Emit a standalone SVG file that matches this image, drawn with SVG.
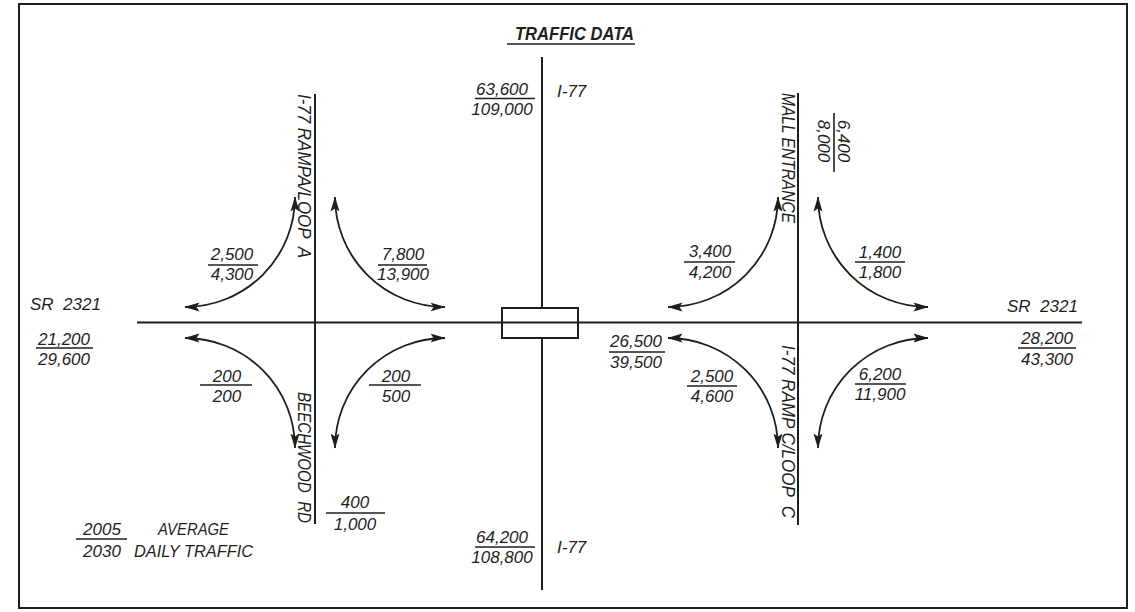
<svg xmlns="http://www.w3.org/2000/svg" width="1135" height="612" viewBox="0 0 1135 612">
<style>
.road{stroke:#1e1e1e;stroke-width:2;fill:none}
.arc{stroke:#1e1e1e;stroke-width:1.8;fill:none;marker-start:url(#ah);marker-end:url(#ah)}
.bar{stroke:#1e1e1e;stroke-width:1.6}
text{font-family:"Liberation Sans",Arial,sans-serif;font-style:italic;font-size:17px;fill:#1e1e1e}
.c{text-anchor:middle}
.v{font-size:18px}
.title{font-weight:bold;font-size:18px}
</style>
<defs>
<marker id="ah" viewBox="0 -5 15 10" refX="14.5" refY="0" markerWidth="15" markerHeight="10" markerUnits="userSpaceOnUse" orient="auto-start-reverse">
<path d="M0,-4.5 L15,0 L0,4.5 L3,0 z" fill="#1e1e1e"/>
</marker>
</defs>
<rect x="0" y="0" width="1135" height="612" fill="#fff"/>
<rect id="frame" x="19" y="4" width="1108" height="604" fill="none" stroke="#1e1e1e" stroke-width="2"/>

<g id="title">
<text class="title" x="515" y="40" textLength="119" lengthAdjust="spacingAndGlyphs">TRAFFIC DATA</text>
<line class="bar" x1="507" y1="44" x2="635" y2="44"/>
</g>

<g id="roads">
<line class="road" x1="137" y1="322.5" x2="1082" y2="322.5"/>
<line class="road" x1="315" y1="94" x2="315" y2="524"/>
<line class="road" x1="798" y1="93" x2="798" y2="525"/>
<line class="road" x1="542" y1="57" x2="542" y2="308"/>
<line class="road" x1="542" y1="338" x2="542" y2="590"/>
</g>
<g id="bridge">
<rect x="502" y="308" width="76" height="30" fill="none" stroke="#1e1e1e" stroke-width="2"/>
</g>

<g id="connectors">
<path class="arc" d="M185,307 A110,110 0 0 0 295,197"/>
<path class="arc" d="M335,197 A110,110 0 0 0 445,307"/>
<path class="arc" d="M185,338 A110,110 0 0 1 295,448"/>
<path class="arc" d="M335,448 A110,110 0 0 1 445,338"/>
<path class="arc" d="M668,307 A110,110 0 0 0 778,197"/>
<path class="arc" d="M818,197 A110,110 0 0 0 928,307"/>
<path class="arc" d="M668,338 A110,110 0 0 1 778,448"/>
<path class="arc" d="M818,448 A110,110 0 0 1 928,338"/>
</g>

<g id="road-labels">
<text x="30" y="310" xml:space="preserve">SR  2321</text>
<text x="1007" y="312" xml:space="preserve">SR  2321</text>
<text x="557" y="97">I-77</text>
<text x="557" y="553">I-77</text>
<text class="v" transform="translate(298,94) rotate(90)" textLength="164" lengthAdjust="spacingAndGlyphs" xml:space="preserve">I-77 RAMPA/LOOP  A</text>
<text class="v" transform="translate(298,392) rotate(90)" textLength="131" lengthAdjust="spacingAndGlyphs" xml:space="preserve">BEECHWOOD  RD</text>
<text class="v" transform="translate(782,93) rotate(90)" textLength="130" lengthAdjust="spacingAndGlyphs">MALL ENTRANCE</text>
<text class="v" transform="translate(782,345) rotate(90)" textLength="173" lengthAdjust="spacingAndGlyphs" xml:space="preserve">I-77 RAMP C/LOOP  C</text>
</g>

<g id="f-i77-north"><text class="c" x="502" y="95">63,600</text><line class="bar" x1="475" y1="98.5" x2="535" y2="98.5"/><text class="c" x="502" y="115">109,000</text></g>
<g id="f-i77-south"><text class="c" x="502" y="543">64,200</text><line class="bar" x1="475" y1="547" x2="535" y2="547"/><text class="c" x="502" y="563">108,800</text></g>
<g id="f-a-ul"><text class="c" x="232" y="260">2,500</text><line class="bar" x1="208" y1="265" x2="258" y2="265"/><text class="c" x="232" y="280">4,300</text></g>
<g id="f-a-ur"><text class="c" x="403" y="260">7,800</text><line class="bar" x1="378" y1="265" x2="427" y2="265"/><text class="c" x="403" y="280">13,900</text></g>
<g id="f-sr-west"><text class="c" x="64" y="345">21,200</text><line class="bar" x1="36" y1="348" x2="93" y2="348"/><text class="c" x="64" y="365">29,600</text></g>
<g id="f-a-ll"><text class="c" x="227" y="382">200</text><line class="bar" x1="200" y1="385" x2="252" y2="385"/><text class="c" x="227" y="402">200</text></g>
<g id="f-a-lr"><text class="c" x="396" y="382">200</text><line class="bar" x1="369" y1="385" x2="421" y2="385"/><text class="c" x="396" y="402">500</text></g>
<g id="f-beech"><text class="c" x="355" y="508">400</text><line class="bar" x1="326" y1="513" x2="385" y2="513"/><text class="c" x="355" y="530">1,000</text></g>
<g id="legend"><text class="c" x="102" y="535">2005</text><line class="bar" x1="76" y1="539" x2="127" y2="539"/><text class="c" x="102" y="557">2030</text>
<text x="158" y="535" textLength="71" lengthAdjust="spacingAndGlyphs">AVERAGE</text>
<text x="134" y="557" textLength="119" lengthAdjust="spacingAndGlyphs">DAILY TRAFFIC</text></g>
<g id="f-c-ul"><text class="c" x="710" y="257">3,400</text><line class="bar" x1="684" y1="262" x2="735" y2="262"/><text class="c" x="710" y="278">4,200</text></g>
<g id="f-c-ur"><text class="c" x="880" y="258">1,400</text><line class="bar" x1="855" y1="262" x2="905" y2="262"/><text class="c" x="880" y="278">1,800</text></g>
<g id="f-mall"><text class="c" transform="translate(838,141) rotate(90)">6,400</text><line class="bar" x1="834" y1="113" x2="834" y2="172"/><text class="c" transform="translate(818,141) rotate(90)">8,000</text></g>
<g id="f-sr-east"><text class="c" x="1047" y="344">28,200</text><line class="bar" x1="1018" y1="348" x2="1076" y2="348"/><text class="c" x="1047" y="365">43,300</text></g>
<g id="f-sr-mid"><text class="c" x="636" y="347">26,500</text><line class="bar" x1="609" y1="352" x2="665" y2="352"/><text class="c" x="636" y="368">39,500</text></g>
<g id="f-c-ll"><text class="c" x="712" y="382">2,500</text><line class="bar" x1="687" y1="386" x2="737" y2="386"/><text class="c" x="712" y="402">4,600</text></g>
<g id="f-c-lr"><text class="c" x="880" y="380">6,200</text><line class="bar" x1="855" y1="384" x2="906" y2="384"/><text class="c" x="880" y="400">11,900</text></g>
</svg>
